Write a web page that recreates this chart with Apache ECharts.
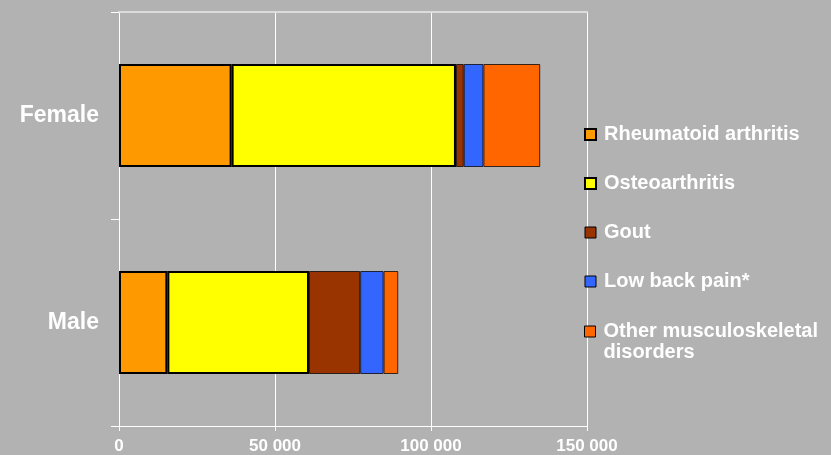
<!DOCTYPE html>
<html>
<head>
<meta charset="utf-8">
<script src="https://cdn.jsdelivr.net/npm/echarts@6/dist/echarts.min.js"></script>
<style>
html,body{margin:0;padding:0;background:#b2b2b2;}
#chart{width:831px;height:455px;}
</style>
</head>
<body>
<div id="chart"></div>
<script>
const categories = ['Female', 'Male'];
const seriesNames = ['Rheumatoid arthritis', 'Osteoarthritis', 'Gout', 'Low back pain*', 'Other musculoskeletal disorders'];
const rheumatoid = [36100, 15500];
const osteoarthritis = [71900, 45400];
const gout = [2500, 16400];
const lowBackPain = [6300, 7500];
const otherMsk = [18200, 4700];
const xTicks = [0, 50000, 100000, 150000];

const colors = ['#FF9900', '#FFFF00', '#993300', '#3366FF', '#FF6600'];
const values = [rheumatoid, osteoarthritis, gout, lowBackPain, otherMsk];
const borderW = [2, 2, 1, 1, 1];

const chart = echarts.init(document.getElementById('chart'));
const fontFamily = '"Liberation Sans", Arial, sans-serif';

const series = seriesNames.map((n, i) => ({
  name: n,
  type: 'bar',
  stack: 'total',
  barWidth: 103,
  data: values[i],
  itemStyle: {
    color: colors[i],
    borderColor: i < 2 ? '#000' : 'rgba(0,0,0,0.75)',
    borderWidth: borderW[i]
  },
  emphasis: { disabled: true }
}));

const legendText = {
  color: '#ffffff',
  fontFamily: fontFamily,
  fontWeight: 'bold',
  fontSize: 20,
  lineHeight: 21,
  padding: [0, 0, 0, 3]
};

const legendData = seriesNames.map((n, i) => ({
  name: n,
  itemStyle: { borderColor: '#000', borderWidth: borderW[i] }
}));

chart.setOption({
  backgroundColor: '#b2b2b2',
  animation: false,
  grid: { left: 119, right: 244, top: 12, bottom: 28, containLabel: false },
  xAxis: [{
    type: 'value',
    min: 0, max: 150000, interval: 50000,
    position: 'bottom',
    axisLine: { show: true, lineStyle: { color: '#ffffff', width: 1 } },
    axisTick: { show: true, length: 5, lineStyle: { color: '#ffffff' } },
    splitLine: { show: true, lineStyle: { color: '#ffffff', width: 1 } },
    axisLabel: {
      color: '#ffffff', fontFamily: fontFamily, fontWeight: 'bold', fontSize: 17, margin: 12,
      formatter: v => xTicks.includes(v) ? String(v).replace(/\B(?=(\d{3})+(?!\d))/g, ' ') : ''
    }
  }, {
    type: 'value',
    min: 0, max: 150000, interval: 50000,
    position: 'top',
    axisLine: { show: true, lineStyle: { color: '#dcdcdc', width: 2 } },
    axisTick: { show: false },
    axisLabel: { show: false },
    splitLine: { show: false }
  }],
  yAxis: {
    type: 'category',
    data: categories,
    inverse: true,
    axisLine: { show: true, lineStyle: { color: '#ffffff', width: 1 } },
    axisTick: { show: true, length: 8, inside: false, lineStyle: { color: '#ffffff' } },
    axisLabel: { color: '#ffffff', fontFamily: fontFamily, fontWeight: 'bold', fontSize: 23, margin: 20 },
    splitLine: { show: false }
  },
  legend: [{
    orient: 'vertical',
    left: 584,
    top: 124,
    padding: 0,
    icon: 'rect',
    itemWidth: 11,
    itemHeight: 11,
    itemGap: 28,
    selectedMode: false,
    data: legendData.slice(0, 4),
    textStyle: legendText
  }, {
    orient: 'vertical',
    left: 584,
    top: 300,
    padding: 0,
    icon: 'rect',
    itemWidth: 11,
    itemHeight: 11,
    selectedMode: false,
    data: legendData.slice(4),
    formatter: () => '\nOther musculoskeletal\ndisorders',
    textStyle: legendText
  }],
  series: series
});
</script>
</body>
</html>
